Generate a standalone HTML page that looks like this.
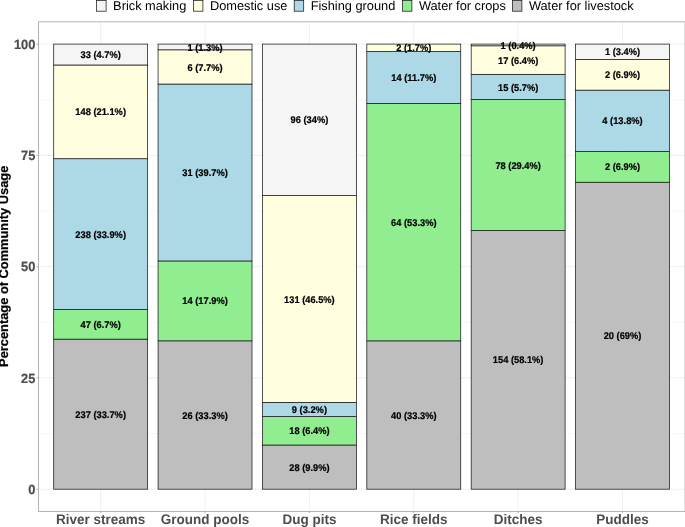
<!DOCTYPE html>
<html><head><meta charset="utf-8"><title>Community usage</title>
<style>
html,body{margin:0;padding:0;background:#fff;}
svg{display:block;text-rendering:geometricPrecision;font-family:"Liberation Sans",Arial,Helvetica,sans-serif;}
.lg{font-size:12.8px;fill:#000;}
.ax{font-size:12.8px;font-weight:700;fill:#4D4D4D;stroke:#4D4D4D;stroke-width:0.2;}
.xl{font-size:13.5px;font-weight:700;fill:#4D4D4D;}
.yt{font-size:12.85px;font-weight:700;fill:#000;stroke:#000;stroke-width:0.2;}
.bl{font-size:9.3px;font-weight:700;fill:#000;stroke:#000;stroke-width:0.2;}
.bar{stroke:#1a1a1a;stroke-width:0.75;}
</style></head><body>
<svg width="685" height="527" viewBox="0 0 685 527">
<rect width="685" height="527" fill="#fff"/>
<g stroke="#DEDEDE" fill="none">
<line x1="38.04" x2="685" y1="433.56" y2="433.56" stroke-width="0.25"/>
<line x1="38.04" x2="685" y1="322.29" y2="322.29" stroke-width="0.25"/>
<line x1="38.04" x2="685" y1="211.01" y2="211.01" stroke-width="0.25"/>
<line x1="38.04" x2="685" y1="99.74" y2="99.74" stroke-width="0.25"/>
<line x1="38.04" x2="685" y1="489.20" y2="489.20" stroke-width="0.5"/>
<line x1="38.04" x2="685" y1="377.92" y2="377.92" stroke-width="0.5"/>
<line x1="38.04" x2="685" y1="266.65" y2="266.65" stroke-width="0.5"/>
<line x1="38.04" x2="685" y1="155.38" y2="155.38" stroke-width="0.5"/>
<line x1="38.04" x2="685" y1="44.10" y2="44.10" stroke-width="0.5"/>
<line x1="100.66" x2="100.66" y1="21.8" y2="511.5" stroke-width="0.5"/>
<line x1="205.03" x2="205.03" y1="21.8" y2="511.5" stroke-width="0.5"/>
<line x1="309.40" x2="309.40" y1="21.8" y2="511.5" stroke-width="0.5"/>
<line x1="413.77" x2="413.77" y1="21.8" y2="511.5" stroke-width="0.5"/>
<line x1="518.14" x2="518.14" y1="21.8" y2="511.5" stroke-width="0.5"/>
<line x1="622.51" x2="622.51" y1="21.8" y2="511.5" stroke-width="0.5"/>
</g>
<g class="bar">
<rect x="53.70" y="339.14" width="93.93" height="150.06" fill="#BEBEBE"/>
<rect x="53.70" y="309.39" width="93.93" height="29.76" fill="#90EE90"/>
<rect x="53.70" y="158.70" width="93.93" height="150.69" fill="#ADD8E6"/>
<rect x="53.70" y="64.99" width="93.93" height="93.71" fill="#FFFFE0"/>
<rect x="53.70" y="44.10" width="93.93" height="20.89" fill="#F5F5F5"/>
</g>
<g class="bar">
<rect x="158.07" y="340.83" width="93.93" height="148.37" fill="#BEBEBE"/>
<rect x="158.07" y="260.94" width="93.93" height="79.89" fill="#90EE90"/>
<rect x="158.07" y="84.04" width="93.93" height="176.90" fill="#ADD8E6"/>
<rect x="158.07" y="49.81" width="93.93" height="34.24" fill="#FFFFE0"/>
<rect x="158.07" y="44.10" width="93.93" height="5.71" fill="#F5F5F5"/>
</g>
<g class="bar">
<rect x="262.44" y="445.01" width="93.93" height="44.19" fill="#BEBEBE"/>
<rect x="262.44" y="416.60" width="93.93" height="28.41" fill="#90EE90"/>
<rect x="262.44" y="402.39" width="93.93" height="14.21" fill="#ADD8E6"/>
<rect x="262.44" y="195.62" width="93.93" height="206.77" fill="#FFFFE0"/>
<rect x="262.44" y="44.10" width="93.93" height="151.52" fill="#F5F5F5"/>
</g>
<g class="bar">
<rect x="366.81" y="340.83" width="93.93" height="148.37" fill="#BEBEBE"/>
<rect x="366.81" y="103.45" width="93.93" height="237.39" fill="#90EE90"/>
<rect x="366.81" y="51.52" width="93.93" height="51.93" fill="#ADD8E6"/>
<rect x="366.81" y="44.10" width="93.93" height="7.42" fill="#FFFFE0"/>
</g>
<g class="bar">
<rect x="471.18" y="230.54" width="93.93" height="258.66" fill="#BEBEBE"/>
<rect x="471.18" y="99.53" width="93.93" height="131.01" fill="#90EE90"/>
<rect x="471.18" y="74.33" width="93.93" height="25.19" fill="#ADD8E6"/>
<rect x="471.18" y="45.78" width="93.93" height="28.55" fill="#FFFFE0"/>
<rect x="471.18" y="44.10" width="93.93" height="1.68" fill="#F5F5F5"/>
</g>
<g class="bar">
<rect x="575.55" y="182.23" width="93.93" height="306.97" fill="#BEBEBE"/>
<rect x="575.55" y="151.54" width="93.93" height="30.70" fill="#90EE90"/>
<rect x="575.55" y="90.14" width="93.93" height="61.39" fill="#ADD8E6"/>
<rect x="575.55" y="59.45" width="93.93" height="30.70" fill="#FFFFE0"/>
<rect x="575.55" y="44.10" width="93.93" height="15.35" fill="#F5F5F5"/>
</g>
<g class="bl" text-anchor="middle">
<text transform="translate(100.66,417.77) scale(1,1.045)">237 (33.7%)</text>
<text transform="translate(100.66,327.87) scale(1,1.045)">47 (6.7%)</text>
<text transform="translate(100.66,237.64) scale(1,1.045)">238 (33.9%)</text>
<text transform="translate(100.66,115.45) scale(1,1.045)">148 (21.1%)</text>
<text transform="translate(100.66,58.15) scale(1,1.045)">33 (4.7%)</text>
<text transform="translate(205.03,418.62) scale(1,1.045)">26 (33.3%)</text>
<text transform="translate(205.03,304.49) scale(1,1.045)">14 (17.9%)</text>
<text transform="translate(205.03,176.09) scale(1,1.045)">31 (39.7%)</text>
<text transform="translate(205.03,70.53) scale(1,1.045)">6 (7.7%)</text>
<text transform="translate(205.03,50.55) scale(1,1.045)">1 (1.3%)</text>
<text transform="translate(309.40,470.70) scale(1,1.045)">28 (9.9%)</text>
<text transform="translate(309.40,434.40) scale(1,1.045)">18 (6.4%)</text>
<text transform="translate(309.40,413.09) scale(1,1.045)">9 (3.2%)</text>
<text transform="translate(309.40,302.61) scale(1,1.045)">131 (46.5%)</text>
<text transform="translate(309.40,123.46) scale(1,1.045)">96 (34%)</text>
<text transform="translate(413.77,418.62) scale(1,1.045)">40 (33.3%)</text>
<text transform="translate(413.77,225.74) scale(1,1.045)">64 (53.3%)</text>
<text transform="translate(413.77,81.08) scale(1,1.045)">14 (11.7%)</text>
<text transform="translate(413.77,51.41) scale(1,1.045)">2 (1.7%)</text>
<text transform="translate(518.14,363.47) scale(1,1.045)">154 (58.1%)</text>
<text transform="translate(518.14,168.63) scale(1,1.045)">78 (29.4%)</text>
<text transform="translate(518.14,90.53) scale(1,1.045)">15 (5.7%)</text>
<text transform="translate(518.14,63.66) scale(1,1.045)">17 (6.4%)</text>
<text transform="translate(518.14,48.54) scale(1,1.045)">1 (0.4%)</text>
<text transform="translate(622.51,339.32) scale(1,1.045)">20 (69%)</text>
<text transform="translate(622.51,170.49) scale(1,1.045)">2 (6.9%)</text>
<text transform="translate(622.51,124.44) scale(1,1.045)">4 (13.8%)</text>
<text transform="translate(622.51,78.40) scale(1,1.045)">2 (6.9%)</text>
<text transform="translate(622.51,55.37) scale(1,1.045)">1 (3.4%)</text>
</g>
<rect x="38.5" y="21.8" width="646.60" height="489.70" fill="none" stroke="#B3B3B3" stroke-width="1.0"/>
<g stroke="#B3B3B3" stroke-width="1.0">
<line x1="36.3" x2="38.5" y1="489.20" y2="489.20"/>
<line x1="36.3" x2="38.5" y1="377.92" y2="377.92"/>
<line x1="36.3" x2="38.5" y1="266.65" y2="266.65"/>
<line x1="36.3" x2="38.5" y1="155.38" y2="155.38"/>
<line x1="36.3" x2="38.5" y1="44.10" y2="44.10"/>
<line x1="100.66" x2="100.66" y1="511.5" y2="513.1"/>
<line x1="205.03" x2="205.03" y1="511.5" y2="513.1"/>
<line x1="309.40" x2="309.40" y1="511.5" y2="513.1"/>
<line x1="413.77" x2="413.77" y1="511.5" y2="513.1"/>
<line x1="518.14" x2="518.14" y1="511.5" y2="513.1"/>
<line x1="622.51" x2="622.51" y1="511.5" y2="513.1"/>
</g>
<g class="ax" text-anchor="end">
<text transform="translate(35.35,493.80) scale(1,1.045)">0</text>
<text transform="translate(35.35,382.52) scale(1,1.045)">25</text>
<text transform="translate(35.35,271.25) scale(1,1.045)">50</text>
<text transform="translate(35.35,159.97) scale(1,1.045)">75</text>
<text transform="translate(35.35,48.70) scale(1,1.045)">100</text>
</g>
<g class="xl" text-anchor="middle">
<text transform="translate(100.66,523.9) scale(1,1.035)">River streams</text>
<text transform="translate(205.03,523.9) scale(1,1.035)">Ground pools</text>
<text transform="translate(309.40,523.9) scale(1,1.035)">Dug pits</text>
<text transform="translate(413.77,523.9) scale(1,1.035)">Rice fields</text>
<text transform="translate(518.14,523.9) scale(1,1.035)">Ditches</text>
<text transform="translate(622.51,523.9) scale(1,1.035)">Puddles</text>
</g>
<text class="yt" text-anchor="middle" transform="translate(8.2,266.3) rotate(-90)">Percentage of Community Usage</text>
<rect x="96.6" y="0.4" width="9.5" height="10.8" fill="#F5F5F5" stroke="#1a1a1a" stroke-width="0.75"/>
<text class="lg" x="113.1" y="10.0">Brick making</text>
<rect x="193.4" y="0.4" width="9.5" height="10.8" fill="#FFFFE0" stroke="#1a1a1a" stroke-width="0.75"/>
<text class="lg" x="209.9" y="10.0">Domestic use</text>
<rect x="294.2" y="0.4" width="9.5" height="10.8" fill="#ADD8E6" stroke="#1a1a1a" stroke-width="0.75"/>
<text class="lg" x="310.7" y="10.0">Fishing ground</text>
<rect x="402.4" y="0.4" width="9.5" height="10.8" fill="#90EE90" stroke="#1a1a1a" stroke-width="0.75"/>
<text class="lg" x="418.9" y="10.0">Water for crops</text>
<rect x="512.4" y="0.4" width="9.5" height="10.8" fill="#BEBEBE" stroke="#1a1a1a" stroke-width="0.75"/>
<text class="lg" x="528.9" y="10.0">Water for livestock</text>
</svg>
</body></html>
